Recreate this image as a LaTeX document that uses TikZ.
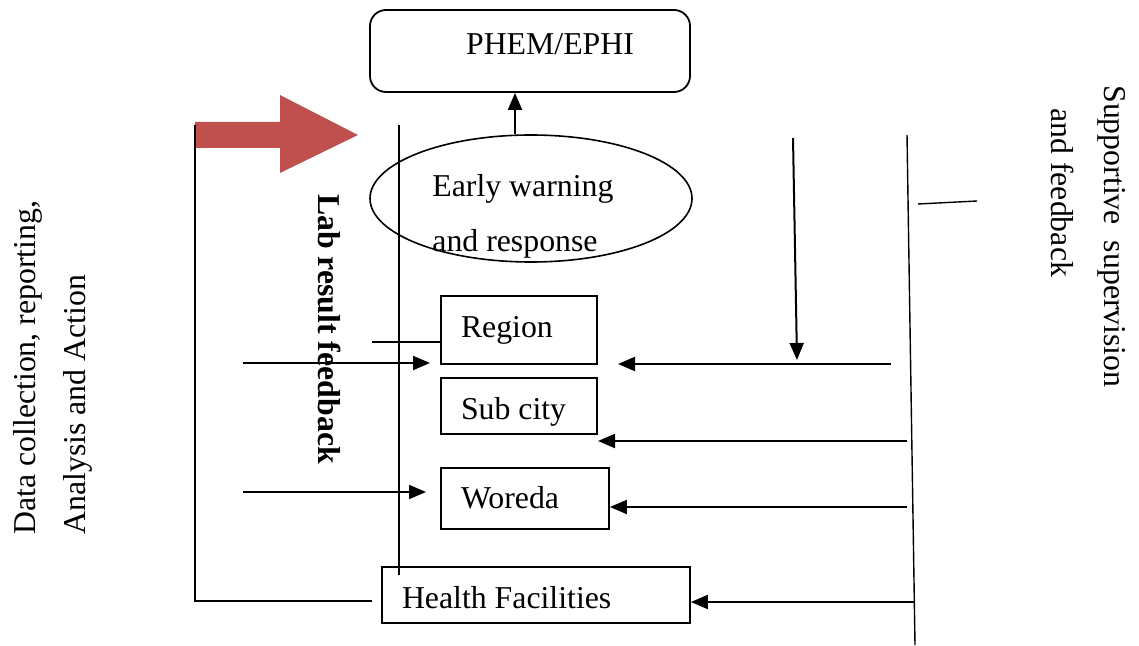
\documentclass[tikz,border=0pt]{standalone}
\usepackage{fontspec}
\setmainfont{Liberation Serif}
\usetikzlibrary{arrows.meta,shapes.geometric}
\definecolor{redarrow}{HTML}{C0504D}
\begin{document}
\begin{tikzpicture}[x=0.5pt,y=-0.5pt,
  font=\fontsize{15.9pt}{27.5pt}\selectfont,
  box/.style={draw, line width=0.9pt, inner sep=0pt, inner xsep=10pt, align=flush left, text height=11pt, text depth=3.5pt},
  arr/.style={line width=1pt, -{Triangle[length=8.5pt,width=7pt]}},
  thinline/.style={line width=0.7pt}]
\useasboundingbox (0,0) rectangle (1139,646);

% main nodes
\node[box, rounded corners=8pt, minimum width=160pt, minimum height=41pt, align=center, text depth=7.5pt] (phem) at (530,51) {\hspace*{20pt}PHEM/EPHI};
\node[draw, ellipse, line width=0.8pt, minimum width=161pt, minimum height=63.5pt, inner sep=0pt] (ew) at (531,198.5) {};
\node[anchor=west, align=flush left, inner sep=0pt] (ewtext) at (432,216) {Early warning\\and response};
\node[box, minimum height=34pt, text width=58pt] (region) at (519,330) {Region};
\node[box, minimum height=28pt, text width=58pt, text height=17pt] (subcity) at (519,406) {Sub city};
\node[box, minimum height=30.5pt, text width=64pt, text height=13pt] (woreda) at (525,498.5) {Woreda};
\node[box, minimum height=28pt, text width=134pt, text height=17pt] (hf) at (536,595) {Health Facilities};

% side labels
\node[rotate=90, anchor=west, inner sep=0pt] (lbl1) at (28,535) {Data collection, reporting,};
\node[rotate=90, anchor=west, inner sep=0pt] (lbl2) at (78,535) {Analysis and Action};
\node[rotate=-90, inner sep=0pt, font=\fontsize{15.9pt}{27.5pt}\selectfont\bfseries] (lab) at (329,329) {Lab result feedback};
\node[rotate=-90, anchor=west, inner sep=0pt] (sup1) at (1112,85) {Supportive\ \ supervision};
\node[rotate=-90, anchor=west, inner sep=0pt] (sup2) at (1063,108) {and feedback};

% big red arrow
\fill[redarrow] (195,122) -- (280,122) -- (280,95) -- (358,135) -- (280,173) -- (280,148) -- (195,148) -- cycle;

% coordinates
\coordinate (ltop) at (195,125);
\coordinate (lend) at (372,601);
\coordinate (labtop) at (399,125);
\coordinate (labbot) at (399,575);
\coordinate (rgl) at (372,342);
\coordinate (in1s) at (243,363);
\coordinate (in1e) at (430,363);
\coordinate (in2s) at (243,492);
\coordinate (in2e) at (426,492);
\coordinate (rtop) at (907,135);
\coordinate (rbot) at (915,645);
\coordinate (tick1) at (918,204);
\coordinate (tick2) at (977,201);
\coordinate (downs) at (793,138);
\coordinate (downe) at (797,360);
\coordinate (r1s) at (891,364);
\coordinate (r1e) at (618,364);
\coordinate (r2s) at (907,441);
\coordinate (r2e) at (598,441);
\coordinate (r3s) at (907,507);
\coordinate (r4s) at (915,602);

% lines
\draw[thinline] (ltop) |- (lend);
\draw[thinline] (labtop) -- (labbot);
\draw[thinline] (rgl) -- (region.west |- rgl);
\draw[thinline] (rtop) -- (rbot);
\draw[thinline] (tick1) -- (tick2);

% arrows
\draw[arr] ([xshift=-8pt]ew.north) -- ([xshift=-7.5pt]phem.south);
\draw[arr] (in1s) -- (in1e);
\draw[arr] (in2s) -- (in2e);
\draw[arr] (downs) -- (downe);
\draw[arr] (r1s) -- (r1e);
\draw[arr] (r2s) -- (r2e);
\draw[arr] (r3s) -- (woreda.east |- r3s);
\draw[arr] (r4s) -- (hf.east |- r4s);
\end{tikzpicture}
\end{document}
